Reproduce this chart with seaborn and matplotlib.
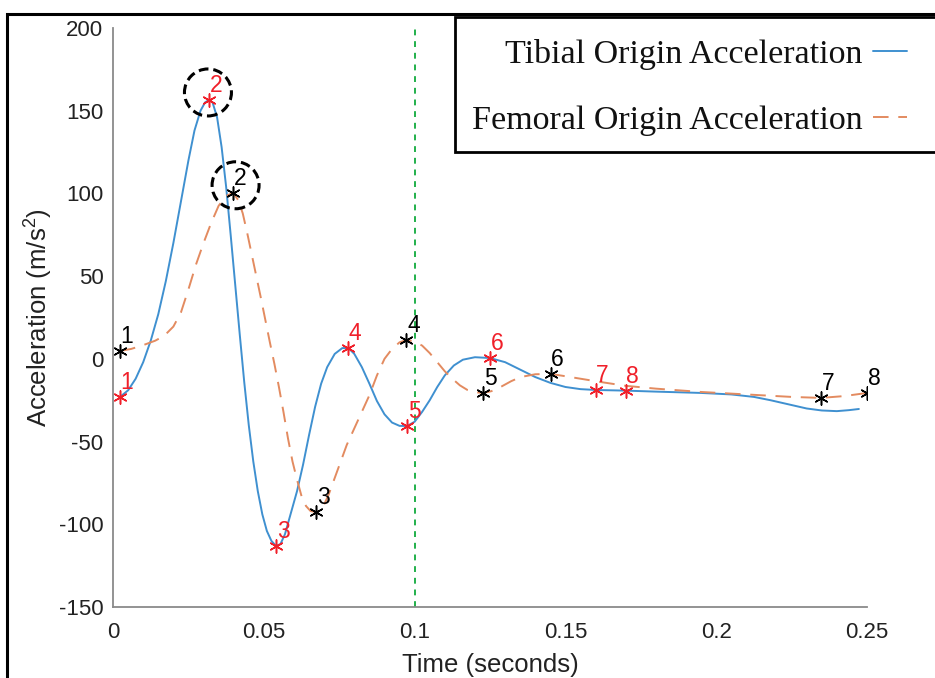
import matplotlib
matplotlib.use("Agg")
import matplotlib.pyplot as plt
from matplotlib.patches import Circle, Rectangle
from matplotlib.transforms import ScaledTranslation
import seaborn as sns
import pandas as pd

# ---- data ----
tib_t = [0.0023, 0.0050, 0.0075, 0.0100, 0.0125, 0.0150, 0.0175, 0.0200, 0.0225, 0.0250,
         0.0270, 0.0290, 0.0305, 0.0318, 0.0330, 0.0345, 0.0360, 0.0375, 0.0390, 0.0405,
         0.0420, 0.0435, 0.0450, 0.0465, 0.0480, 0.0495, 0.0510, 0.0525, 0.0540, 0.0555,
         0.0570, 0.0590, 0.0610, 0.0630, 0.0650, 0.0670, 0.0690, 0.0710, 0.0735, 0.0760,
         0.0780, 0.0800, 0.0825, 0.0850, 0.0875, 0.0900, 0.0925, 0.0950, 0.0975, 0.1000,
         0.1025, 0.1050, 0.1075, 0.1100, 0.1130, 0.1160, 0.1200, 0.1250, 0.1300, 0.1350,
         0.1400, 0.1450, 0.1500, 0.1550, 0.1600, 0.1700, 0.1800, 0.1950, 0.2050, 0.2125,
         0.2180, 0.2240, 0.2300, 0.2350, 0.2400, 0.2440, 0.2473]
tib_a = [-23.0, -19.0, -12.0, -2.0, 11.0, 27.0, 47.0, 70.0, 95.0, 120.0,
         138.0, 150.0, 155.0, 156.5, 155.0, 146.0, 128.0, 104.0, 75.0, 45.0,
         15.0, -14.0, -40.0, -62.0, -80.0, -94.0, -104.0, -110.0, -113.0, -112.0,
         -106.0, -93.0, -80.0, -64.0, -46.0, -29.0, -15.0, -5.0, 3.0, 6.5,
         6.6, 3.0, -5.0, -15.0, -25.5, -33.5, -38.5, -40.5, -40.6, -38.0,
         -32.0, -25.0, -17.0, -10.0, -4.0, -0.5, 1.0, 0.5, -2.0, -6.5,
         -11.0, -14.5, -17.0, -18.3, -18.8, -19.2, -19.8, -20.6, -21.5, -23.0,
         -25.0, -27.5, -30.0, -31.2, -31.6, -31.0, -30.3]

fem_t = [0.0023, 0.0060, 0.0100, 0.0140, 0.0170, 0.0200, 0.0225, 0.0250, 0.0275, 0.0300,
         0.0325, 0.0350, 0.0375, 0.0398, 0.0415, 0.0430, 0.0445, 0.0460, 0.0475, 0.0490,
         0.0505, 0.0520, 0.0535, 0.0550, 0.0565, 0.0580, 0.0595, 0.0610, 0.0625, 0.0640,
         0.0655, 0.0674, 0.0695, 0.0715, 0.0735, 0.0755, 0.0775, 0.0800, 0.0825, 0.0850,
         0.0875, 0.0900, 0.0925, 0.0950, 0.0973, 0.1000, 0.1025, 0.1050, 0.1075, 0.1100,
         0.1125, 0.1150, 0.1175, 0.1200, 0.1228, 0.1255, 0.1285, 0.1320, 0.1351, 0.1400,
         0.1451, 0.1500, 0.1550, 0.1617, 0.1700, 0.1800, 0.1949, 0.2100, 0.2250, 0.2347,
         0.2424, 0.2500]
fem_a = [4.8, 6.0, 8.3, 11.0, 14.0, 19.5, 28.0, 42.0, 57.0, 70.0,
         82.0, 92.5, 98.5, 100.4, 96.0, 88.0, 76.0, 63.0, 50.0, 37.0,
         23.5, 10.0, -3.0, -17.0, -32.0, -48.0, -62.0, -73.0, -83.0, -89.0,
         -92.0, -92.6, -90.0, -82.0, -72.0, -62.0, -52.0, -42.0, -32.0, -22.0,
         -10.0, 0.0, 6.0, 10.0, 11.4, 10.5, 8.0, 3.5, -2.0, -7.5,
         -12.0, -16.0, -18.8, -20.2, -20.6, -19.5, -17.0, -13.5, -11.0, -9.3,
         -9.1, -10.5, -12.0, -14.0, -16.3, -18.0, -20.0, -21.5, -23.0, -23.6,
         -22.5, -20.6]

tib_pt_t = [0.0023, 0.0318, 0.0540, 0.0780, 0.0975, 0.1250, 0.1600, 0.1700]
tib_pt_a = [-23.0, 156.5, -113.0, 6.6, -40.6, 0.5, -18.8, -19.2]
fem_pt_t = [0.0023, 0.0398, 0.0674, 0.0973, 0.1228, 0.1451, 0.2347, 0.2500]
fem_pt_a = [4.8, 100.4, -92.6, 11.4, -20.6, -9.1, -23.6, -20.6]
pt_labels = ["1", "2", "3", "4", "5", "6", "7", "8"]

circled_index = 1          # point "2" of both series is circled
event_time = 0.1

x_ticks = [0, 0.05, 0.1, 0.15, 0.2, 0.25]
x_ticklabels = ["0", "0.05", "0.1", "0.15", "0.2", "0.25"]
y_ticks = [-150, -100, -50, 0, 50, 100, 150, 200]

# ---- styling ----
sns.set_theme(style="white")
plt.rcParams["font.family"] = ["Liberation Sans", "DejaVu Sans"]
plt.rcParams["axes.unicode_minus"] = False
plt.rcParams["mathtext.default"] = "regular"

BLUE = "#3f90d0"
ORANGE = "#e38b60"
RED = "#f0202a"
GREEN = "#21b04b"
AXGRAY = "#8a8a8a"

fig = plt.figure(figsize=(9.35, 6.78), dpi=100)
ax = fig.add_axes([0.1209, 0.1047, 0.8064, 0.854])

df_t = pd.DataFrame({"t": tib_t, "a": tib_a})
df_f = pd.DataFrame({"t": fem_t, "a": fem_a})

sns.lineplot(data=df_t, x="t", y="a", ax=ax, color=BLUE, lw=1.4, sort=False,
             label="Tibial Origin Acceleration")
sns.lineplot(data=df_f, x="t", y="a", ax=ax, color=ORANGE, lw=1.4, sort=False,
             label="Femoral Origin Acceleration")
ax.lines[1].set_dashes([8, 5])

ax.axvline(event_time, color=GREEN, lw=1.4, ls=(0, (3, 3)), zorder=1)

asterisk = (6, 2, 0)
sns.scatterplot(x=tib_pt_t, y=tib_pt_a, ax=ax, marker=asterisk, s=90, color=RED,
                edgecolor=RED, linewidth=1.1, zorder=4, legend=False)
sns.scatterplot(x=fem_pt_t, y=fem_pt_a, ax=ax, marker=asterisk, s=90, color="black",
                edgecolor="black", linewidth=1.1, zorder=4, legend=False)

for t, a, lab in zip(tib_pt_t, tib_pt_a, pt_labels):
    ax.annotate(lab, (t, a), xytext=(0.5, 5.5), textcoords="offset points",
                ha="left", va="baseline", color=RED, fontsize=16.5, zorder=5,
                annotation_clip=False)
for t, a, lab in zip(fem_pt_t, fem_pt_a, pt_labels):
    ax.annotate(lab, (t, a), xytext=(0.5, 5.5), textcoords="offset points",
                ha="left", va="baseline", color="black", fontsize=16.5, zorder=5,
                annotation_clip=False)

# dashed circles around point 2 of both series
for (t, a), dx in (((tib_pt_t[circled_index], tib_pt_a[circled_index]), -0.01),
                   ((fem_pt_t[circled_index], fem_pt_a[circled_index]), 0.025)):
    tr = fig.dpi_scale_trans + ScaledTranslation(t, a, ax.transData)
    c = Circle((dx, 0.075), 0.235, transform=tr, fill=False, ec="black",
               lw=2.2, ls=(0, (3.2, 1.6)), zorder=6, clip_on=False)
    ax.add_artist(c)

ax.set_xlim(0, 0.25)
ax.set_ylim(-150, 200)
ax.set_xticks(x_ticks)
ax.set_xticklabels(x_ticklabels)
ax.set_yticks(y_ticks)
ax.tick_params(direction="in", length=5, width=1.0, colors=AXGRAY,
               labelcolor="#222222", labelsize=16, pad=7)
ax.tick_params(axis="x", pad=11)
for side in ("top", "right"):
    ax.spines[side].set_visible(False)
for side in ("left", "bottom"):
    ax.spines[side].set_color(AXGRAY)
    ax.spines[side].set_linewidth(1.3)
ax.set_xlabel("Time (seconds)", fontsize=18.5, color="#222222", labelpad=7)
ax.set_ylabel("Acceleration (m/s$^2$)", fontsize=18.5, color="#222222", labelpad=2.5)
ax.grid(False)

# legend box (clipped by the right edge of the picture, as in the reference)
fig.patches.append(Rectangle((455 / 935, 1 - 152 / 678), 0.6, 135 / 678,
                             transform=fig.transFigure, facecolor="white",
                             edgecolor="black", lw=2.0, zorder=9))

leg = ax.legend(loc="upper left", bbox_to_anchor=(0.4812, 0.975),
                bbox_transform=fig.transFigure, borderaxespad=0, markerfirst=False,
                prop={"family": "Liberation Serif", "size": 24.5},
                handlelength=1.0, handletextpad=0.3, labelspacing=1.04,
                borderpad=0.65, frameon=False)
for txt in leg.get_texts():
    txt.set_color("#111111")
leg.set_zorder(10)
leg.remove()
fig.legends.append(leg)
leg.set_figure(fig)

# outer black frame of the picture
fig.patches.append(Rectangle((0.008, -0.2), 1.2, 1.179, transform=fig.transFigure,
                             fill=False, ec="black", lw=2.2, zorder=20))

fig.savefig("out.png", dpi=100)
